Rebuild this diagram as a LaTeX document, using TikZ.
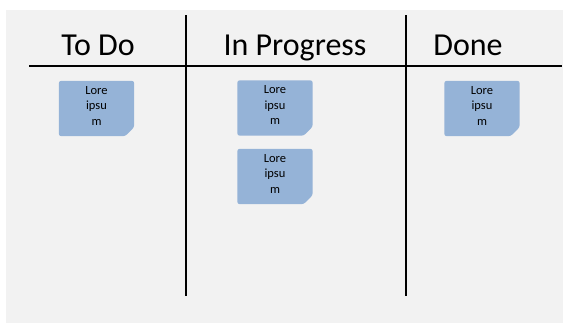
\documentclass[tikz,border=0pt]{standalone}
\usepackage{fontspec}
\setmainfont{Carlito}
\usetikzlibrary{calc}
\definecolor{bggray}{RGB}{242,242,242}
\definecolor{cardblue}{RGB}{149,179,215}
\tikzset{
  header/.style={font=\fontsize{32}{38}\selectfont, anchor=base, inner sep=0pt},
  cardbox/.style={minimum width=75pt, minimum height=55pt, inner sep=0pt, draw=none},
  cardtext/.style={font=\fontsize{12.5}{15.5}\selectfont, align=center, anchor=north, inner xsep=0pt, inner ysep=5pt},
  divider/.style={line width=2pt, black},
  cardfill/.style={fill=cardblue, rounded corners=2.5pt}
}
\newcommand{\mycard}[3]{%
  \node[cardbox] (#1) at (#2,#3) {};
  \fill[cardfill] (#1.south west) -- (#1.north west) -- (#1.north east) -- ([yshift=9pt]#1.south east) -- ([xshift=-9pt]#1.south east) -- cycle;
  \node[cardtext] (#1t) at (#1.north) {Lore\\ipsu\\m};
}
\begin{document}
\begin{tikzpicture}[x=1pt,y=-1pt]
\useasboundingbox (0,0) rectangle (564,324);
\fill[bggray] (6,10) rectangle (563,323);
% divider coordinates
\coordinate (hl) at (29,66);
\coordinate (hr) at (562,66);
\coordinate (v1t) at (186,15);
\coordinate (v1b) at (186,296);
\coordinate (v2t) at (406,15);
\coordinate (v2b) at (406,296);
\draw[divider] (hl) -- (hr);
\draw[divider] (v1t) -- (v1b);
\draw[divider] (v2t) -- (v2b);
% headers
\node[header] (todo) at (98,55) {To Do};
\node[header] (prog) at (295,55) {In Progress};
\node[header] (done) at (468,55) {Done};
% cards
\mycard{c1}{96.5}{108.5}
\mycard{c2}{275}{108}
\mycard{c3}{275}{176.5}
\mycard{c4}{482}{108.5}
\end{tikzpicture}
\end{document}
